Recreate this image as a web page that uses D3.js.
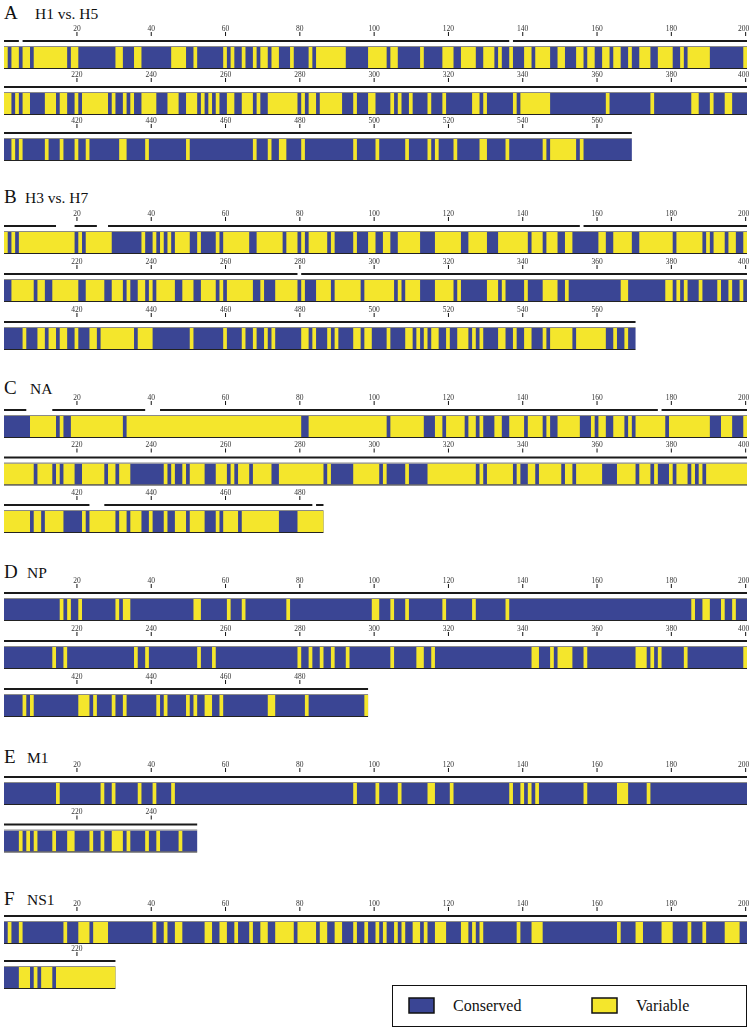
<!DOCTYPE html>
<html>
<head>
<meta charset="utf-8">
<script src="https://cdn.jsdelivr.net/npm/d3@7"></script>
<style>
    body { margin: 0; background: #fff; }
    svg text { font-family: "Liberation Serif", "DejaVu Serif", serif; fill: #111; }
    .axis { filter: grayscale(100%); }
</style>
</head>
<body>
<svg id="chart" width="750" height="1028"></svg>
<script>
// panel labels
const panelLetters = ["A", "B", "C", "D", "E", "F"];
const panelNames = ["H1 vs. H5", "H3 vs. H7", "NA", "NP", "M1", "NS1"];
const seqLengths = [569, 570, 486, 498, 252, 230];

// variable residue ranges [start, end] (everything else is conserved)
const varH1H5 = [[1,1],[3,4],[6,7],[9,17],[19,20],[31,32],[36,37],[46,49],[52,52],[60,60],[62,62],[65,65],[68,68],[70,71],[73,74],[78,78],[83,83],[85,92],[99,103],[105,106],[113,113],[119,121],[124,127],[130,132],[134,134],[137,137],[141,142],[144,147],[150,151],[155,156],[158,159],[162,163],[165,166],[169,169],[172,174],[177,180],[183,183],[185,190],[200,200],
    [201,202],[204,204],[206,207],[212,214],[216,217],[220,220],[222,228],[230,230],[233,233],[235,235],[238,241],[245,247],[250,252],[254,254],[256,256],[258,258],[261,262],[265,267],[269,269],[272,279],[281,281],[283,284],[286,291],[295,295],[299,300],[305,305],[307,307],[310,310],[315,315],[319,319],[327,328],[330,330],[338,338],[340,347],[363,363],[375,375],[386,387],[391,391],[395,396],
    [403,403],[405,405],[412,412],[416,416],[420,420],[423,423],[432,433],[439,439],[450,450],[468,468],[472,472],[475,476],[481,481],[495,495],[501,501],[509,509],[515,515],[517,517],[522,522],[529,530],[536,536],[546,546],[548,554],[556,556]];
const varH3H7 = [[1,1],[3,3],[5,19],[21,21],[23,29],[38,38],[41,41],[43,43],[45,45],[47,50],[53,53],[58,58],[60,66],[69,75],[77,79],[81,81],[83,87],[89,89],[95,95],[99,100],[103,104],[107,112],[117,123],[126,130],[134,141],[143,145],[147,149],[152,153],[161,162],[165,169],[172,180],[182,188],[190,190],[192,194],[196,197],[200,200],
    [203,208],[210,211],[214,220],[223,227],[230,232],[234,234],[237,238],[240,240],[242,246],[249,251],[254,257],[259,259],[261,267],[270,270],[274,279],[281,281],[285,288],[290,296],[298,305],[307,307],[309,312],[317,321],[323,323],[331,333],[335,335],[341,341],[346,349],[352,352],[367,368],[379,380],[382,382],[384,384],[388,388],[393,393],[396,396],[399,399],
    [406,406],[410,411],[413,414],[416,417],[420,420],[424,425],[427,435],[437,440],[451,451],[460,460],[465,465],[468,468],[471,471],[473,473],[481,482],[484,484],[488,488],[490,490],[495,496],[498,499],[504,504],[509,510],[512,512],[514,514],[516,517],[520,520],[523,525],[527,527],[529,529],[534,535],[538,538],[541,542],[546,546],[548,553],[555,562],[565,565],[568,568]];
const varNA = [[8,14],[16,16],[19,32],[34,80],[83,103],[105,113],[117,118],[120,124],[126,127],[129,129],[133,134],[137,140],[142,145],[147,147],[150,155],[159,159],[161,162],[165,167],[169,169],[171,178],[180,190],[194,196],[200,200],
    [201,208],[210,213],[215,215],[217,219],[222,227],[229,230],[232,234],[244,244],[246,246],[249,249],[251,254],[258,260],[262,262],[264,266],[268,272],[275,286],[288,288],[295,301],[303,303],[309,309],[315,327],[329,329],[331,337],[339,339],[342,343],[345,350],[352,353],[355,361],[366,370],[372,374],[376,376],[380,380],[382,384],[386,386],[388,388],[390,400],
    [401,407],[409,410],[412,416],[422,422],[424,430],[432,433],[435,437],[440,440],[444,444],[447,449],[451,454],[458,458],[460,463],[465,474],[480,486]];
const varNP = [[16,16],[18,18],[21,21],[31,31],[33,34],[52,53],[61,61],[65,65],[77,77],[100,101],[105,105],[109,109],[119,119],[127,127],[136,136],[186,186],[189,190],[194,194],[197,197],
    [214,214],[217,217],[236,236],[239,239],[253,253],[257,257],[280,280],[283,283],[286,286],[289,289],[293,293],[305,305],[312,313],[316,316],[343,344],[348,348],[350,353],[357,357],[371,373],[375,375],[377,377],[384,384],[400,400],
    [406,406],[408,408],[421,423],[425,425],[430,430],[433,433],[442,442],[444,444],[450,450],[452,452],[455,456],[459,459],[472,473],[482,482],[498,498]];
const varM1 = [[15,15],[27,27],[30,30],[37,37],[41,41],[46,46],[95,95],[101,101],[107,107],[115,116],[121,121],[137,137],[140,140],[142,142],[144,144],[157,157],[166,168],[174,174],
    [205,205],[207,207],[209,209],[214,214],[218,219],[224,224],[227,227],[230,232],[234,234],[239,239],[242,242],[248,248]];
const varNS1 = [[2,2],[5,5],[17,17],[21,23],[25,28],[41,41],[44,44],[47,48],[55,56],[59,60],[63,63],[67,67],[70,71],[74,78],[80,84],[86,87],[90,91],[95,95],[98,98],[101,101],[103,103],[106,106],[108,108],[111,112],[114,114],[117,119],[124,125],[127,127],[129,129],[139,139],[143,145],[166,166],[171,172],[178,180],[185,185],[189,189],[195,198],
    [205,207],[209,209],[211,213],[215,230]];

// segments marked by the black bars above each row
const segH1H5 = [[1,4],[6,136],[138,200],[201,400],[401,569]];
const segH3H7 = [[1,14],[20,25],[29,155],[157,200],[201,279],[281,400],[401,570]];
const segNA = [[1,6],[14,38],[43,176],[178,200],[201,400],[401,423],[428,483],[485,486]];
const segNP = [[1,200],[201,400],[401,498]];
const segM1 = [[1,200],[201,252]];
const segNS1 = [[1,200],[201,230]];

const legendLabels = ["Conserved", "Variable"];

// layout
const rowLen = 200;
const panelTop = [47, 232, 416, 599, 783, 922];
const rowGap = [46, 48, 47.5, 48, 47.5, 45];
const titleY = [19, 203, 394, 578, 763, 905];
const titleX = [35, 25, 30, 27, 27, 27];
const blue = "#3a4594";
const yellow = "#f4e62c";
const barH = 21;

const panels = panelLetters.map((letter, i) => ({
    letter: letter,
    name: panelNames[i],
    len: seqLengths[i],
    variable: [varH1H5, varH3H7, varNA, varNP, varM1, varNS1][i],
    segs: [segH1H5, segH3H7, segNA, segNP, segM1, segNS1][i]
}));

const svg = d3.select("#chart");

function drawPanel(p, i) {
    const g = svg.append("g").attr("class", `panel_${p.letter}`);

    g.append("text")
        .attr("x", 4)
        .attr("y", titleY[i])
        .attr("font-size", 19)
        .text(p.letter);
    g.append("text")
        .attr("x", titleX[i])
        .attr("y", titleY[i])
        .attr("font-size", 15.5)
        .text(p.name);

    const nRows = Math.ceil(p.len / rowLen);
    d3.range(nRows).forEach((r) => {
        const off = r * rowLen;
        const end = Math.min(p.len, off + rowLen);
        const top = panelTop[i] + r * rowGap[i];
        const x = d3.scaleLinear().domain([off, off + rowLen]).range([4, 747]);
        const xa = d3.scaleLinear().domain([off + 0.5, off + rowLen + 0.5]).range([4, 747]);

        const row = g.append("g")
            .attr("class", "row")
            .attr("transform", `translate(0,${top})`);

        // residue axis
        const axis = d3.axisTop(xa)
            .tickValues(d3.range(off + 20, end + 1, 20))
            .tickSize(4)
            .tickPadding(1.5)
            .tickFormat(d3.format("d"));
        const ax = row.append("g")
            .attr("class", "axis")
            .attr("transform", "translate(0,-11)")
            .call(axis);
        ax.select(".domain").remove();
        ax.selectAll("line").attr("stroke", "#111");
        ax.selectAll("text")
            .attr("font-size", 7.5)
            .attr("dx", (d) => (d % rowLen === 0 ? -2 : 0))
            .style("fill", "#333");

        // black segment bars
        row.selectAll(".seg")
            .data(p.segs.filter((d) => d[1] > off && d[0] <= end))
            .join("line")
            .attr("class", "seg")
            .attr("x1", (d) => x(Math.max(d[0], off + 1) - 1))
            .attr("x2", (d) => x(Math.min(d[1], end)))
            .attr("y1", -6)
            .attr("y2", -6)
            .attr("stroke", "#1a1a1a")
            .attr("stroke-width", 2);

        // conserved background
        row.append("rect")
            .attr("x", x(off))
            .attr("y", 0)
            .attr("width", x(end) - x(off))
            .attr("height", barH)
            .attr("fill", blue);

        // variable residues
        row.selectAll(".var")
            .data(p.variable.filter((d) => d[1] > off && d[0] <= end))
            .join("rect")
            .attr("class", "var")
            .attr("x", (d) => x(Math.max(d[0], off + 1) - 1))
            .attr("y", 0)
            .attr("width", (d) => x(Math.min(d[1], end)) - x(Math.max(d[0], off + 1) - 1))
            .attr("height", barH)
            .attr("fill", yellow);

        // frame
        row.append("line")
            .attr("x1", x(off)).attr("x2", x(end))
            .attr("y1", -0.5).attr("y2", -0.5)
            .attr("stroke", "#8a8a8a").attr("stroke-width", 1);
        row.append("line")
            .attr("x1", x(off)).attr("x2", x(end))
            .attr("y1", barH + 0.5).attr("y2", barH + 0.5)
            .attr("stroke", "#222").attr("stroke-width", 1.2);
    });
}

panels.forEach(drawPanel);

// legend
const legend = svg.append("g").attr("class", "legend");
legend.append("rect")
    .attr("x", 392.5).attr("y", 985.5)
    .attr("width", 354).attr("height", 41)
    .attr("fill", "none").attr("stroke", "#111").attr("stroke-width", 1);
const legX = [409, 592];
legend.selectAll(".item")
    .data(legendLabels)
    .join("g")
    .attr("class", "item")
    .attr("transform", (d, i) => `translate(${legX[i]},998)`)
    .each(function (d, i) {
        const it = d3.select(this);
        it.append("rect")
            .attr("width", 25).attr("height", 15)
            .attr("fill", i === 0 ? blue : yellow)
            .attr("stroke", "#111").attr("stroke-width", 1.5);
        it.append("text")
            .attr("x", 44).attr("y", 13)
            .attr("font-size", 16)
            .text(d);
    });
</script>
</body>
</html>
